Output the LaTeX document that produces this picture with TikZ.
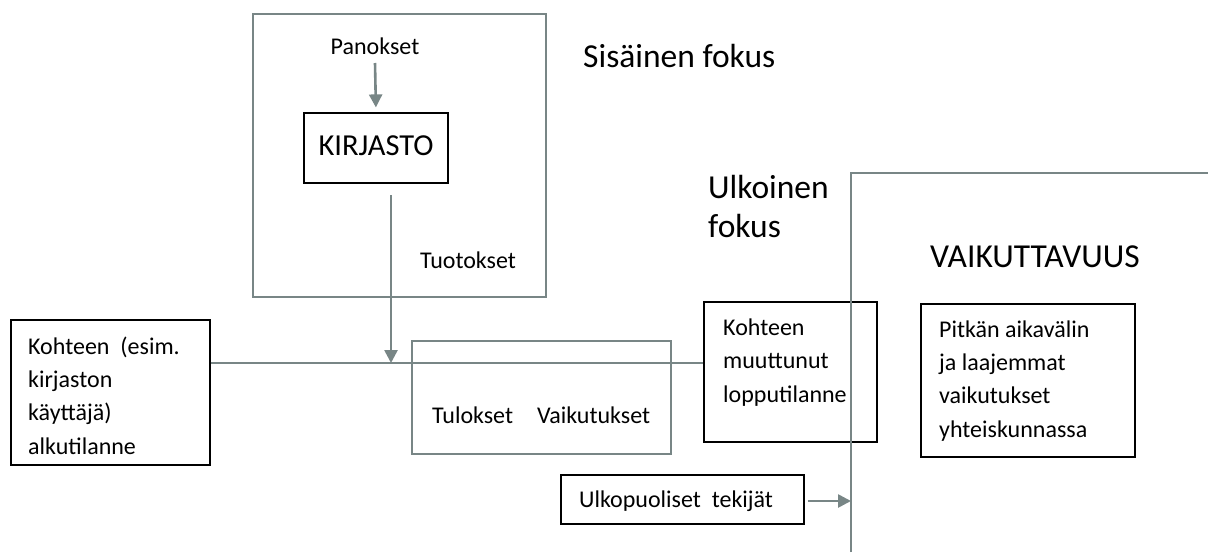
\documentclass[tikz,border=0pt]{standalone}
\usepackage{fontspec}
\setmainfont{Carlito}
\usetikzlibrary{arrows.meta}
\definecolor{lg}{RGB}{120,134,134}
\begin{document}
\begin{tikzpicture}[x=1pt,y=-1pt,
  bbox/.style={draw=black,line width=1.2pt,inner sep=0pt},
  txt/.style={inner sep=0pt,font=\fontsize{24}{33.3}\selectfont,align=left},
  big/.style={inner sep=0pt,font=\fontsize{33.5}{38.5}\selectfont,align=left},
  glink/.style={draw=lg,line width=2.6pt},
  garr/.style={glink,-{Triangle[length=13pt,width=13pt]}}]
\useasboundingbox (0,0) rectangle (1215,555);
% top box
\node[draw=lg,line width=2.6pt,minimum width=293pt,minimum height=283pt] (top) at (399.5,155.5) {};
\node[txt,anchor=base] (pan) at (375,54) {Panokset};
\node[bbox,minimum width=144pt,minimum height=70pt] (kirj) at (376,148) {};
\node[inner sep=0pt,font=\fontsize{30.5}{34}\selectfont,anchor=base] (kirjtxt) at (376,155) {KIRJASTO};
\coordinate (p0) at (375,63);
\draw[garr,shorten >=5pt] (p0) -- (kirj.north);
\node[txt,anchor=base] (tuo) at (468,268) {Tuotokset};
\node[big,anchor=base west] (sis) at (583,67) {Sisäinen fokus};
% left box
\node[bbox,minimum width=199pt,minimum height=145pt] (left) at (110.5,392.5) {};
\node[txt,anchor=base west] (lefttxt) at (28,454) {Kohteen\ \ (esim.\\kirjaston\\käyttäjä)\\alkutilanne};
% tulokset box
\node[draw=lg,line width=2.6pt,minimum width=259pt,minimum height=113pt,inner sep=0pt] (tul) at (541.5,397.5) {};
\node[txt,anchor=base west] (tultxt) at (432,423) {Tulokset\quad Vaikutukset};
% kohteen muuttunut
\node[draw=black,line width=2.2pt,minimum width=173pt,minimum height=140pt,inner sep=0pt] (kmu) at (790.5,372) {};
\node[txt,anchor=base west] (kmutxt) at (723,402) {Kohteen\\muuttunut\\lopputilanne};
% horizontal line
\coordinate (h) at (0,363);
\draw[glink] (left.east |- h) -- (kmu.west |- h);
% tuotokset arrow
\coordinate (t0) at (391,195);
\coordinate (t1) at (391,363);
\draw[garr] (t0) -- (t1);
% outer focus
\node[big,anchor=base west] (ulk) at (708,237) {Ulkoinen\\fokus};
\coordinate (v0) at (851,552);
\coordinate (v1) at (851,173);
\coordinate (v2) at (1208,173);
\draw[glink] (v0) -- (v1) -- (v2);
\node[big,anchor=base west] (vai) at (930,267) {VAIKUTTAVUUS};
\node[bbox,minimum width=214pt,minimum height=153pt] (pit) at (1028,380.5) {};
\node[txt,anchor=base west] (pittxt) at (939,437) {Pitkän aikavälin\\ja laajemmat\\vaikutukset\\yhteiskunnassa};
\node[bbox,minimum width=243pt,minimum height=49pt] (ulkp) at (682.5,499.5) {};
\node[txt,anchor=base west] (ulkptxt) at (579,507) {Ulkopuoliset\ \ tekijät};
\coordinate (va) at (851,501);
\draw[garr,shorten <=3pt] (ulkp.east |- va) -- (va);
\end{tikzpicture}
\end{document}
